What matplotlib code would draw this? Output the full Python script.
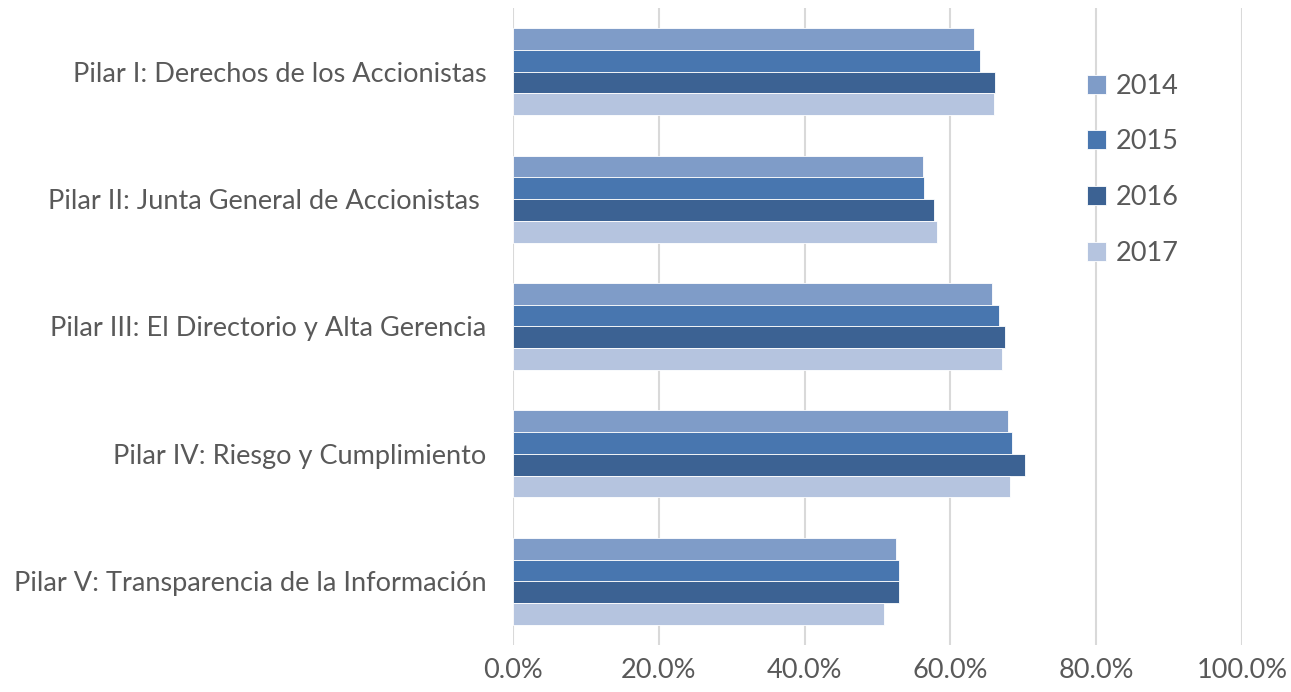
import matplotlib.pyplot as plt
import numpy as np
from matplotlib.ticker import FuncFormatter

# datos (porcentaje de cumplimiento por pilar)
pilares = ["Pilar I: Derechos de los Accionistas",
           "Pilar II: Junta General de Accionistas ",
           "Pilar III: El Directorio y Alta Gerencia",
           "Pilar IV: Riesgo y Cumplimiento",
           "Pilar V: Transparencia de la Información"]
anios = ["2014", "2015", "2016", "2017"]
v2014 = [63.3, 56.2, 65.7, 67.9, 52.6]
v2015 = [64.1, 56.4, 66.7, 68.4, 53.0]
v2016 = [66.1, 57.7, 67.5, 70.2, 53.0]
v2017 = [66.0, 58.1, 67.1, 68.2, 50.9]
xticks = [0, 20, 40, 60, 80, 100]

colores = ["#7f9cc8", "#4876af", "#3c6293", "#b5c4df"]
series = [v2014, v2015, v2016, v2017]

plt.rcParams['font.family'] = ['Lato', 'DejaVu Sans']

fig = plt.figure(figsize=(12.91, 6.92), dpi=100)
ax = fig.add_axes([513/1291, 1 - 645/692, 729/1291, 637/692])

y = np.arange(len(pilares))
h = 0.171
for i, (vals, c) in enumerate(zip(series, colores)):
    ax.barh(y + (i - 1.5) * h, vals, height=h, color=c, label=anios[i],
            edgecolor="white", linewidth=0.6, zorder=3)

ax.set_xlim(0, 100)
ax.set_ylim(4.5, -0.5)
ax.set_xticks(xticks)
ax.xaxis.set_major_formatter(FuncFormatter(lambda v, p: f"{v:.1f}%"))
ax.set_yticks(y)
ax.set_yticklabels(pilares)
ax.grid(axis="x", color="#d9d9d9", linewidth=1.5, zorder=0)
for s in ax.spines.values():
    s.set_visible(False)
ax.tick_params(axis="both", length=0, labelsize=19.5, colors="#595959")
ax.tick_params(axis="y", pad=19)
ax.tick_params(axis="x", pad=9)

leg = ax.legend(loc="upper left", bbox_to_anchor=(0.754, 0.935), frameon=False,
                fontsize=19.5, labelcolor="#595959", handlelength=0.7,
                handleheight=0.7, handletextpad=0.35, labelspacing=1.13)

fig.savefig("out.png", dpi=100)
